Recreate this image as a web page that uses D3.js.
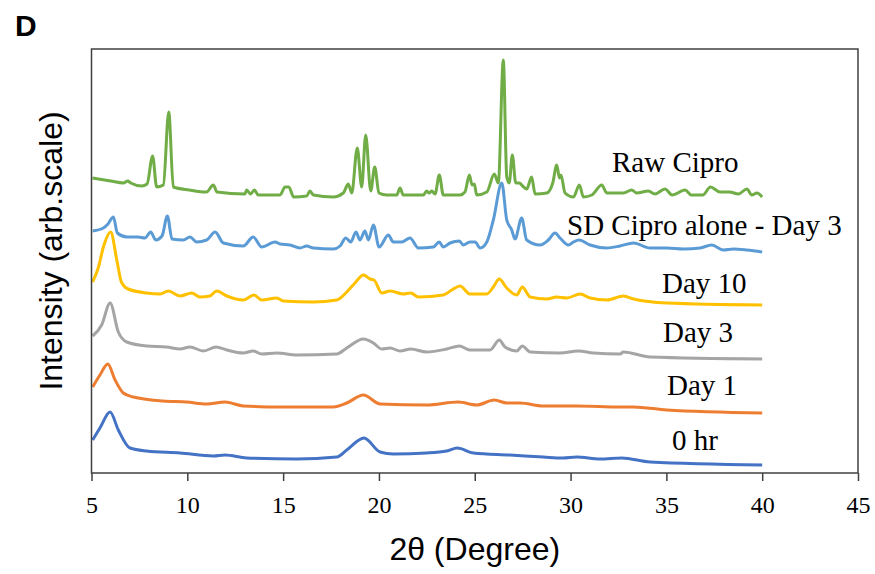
<!DOCTYPE html>
<html>
<head>
<meta charset="utf-8">
<script src="https://cdn.jsdelivr.net/npm/d3@7"></script>
<style>
  body { margin: 0; background: #fff; }
  svg { display: block; }
</style>
</head>
<body>
<div id="vis"></div>
<script>
// 2θ (degree), intensity (arb. units, already stacked)
const rawCipro = [
  [5.05, 295], [6.0, 292], [6.66, 290], [6.89, 292], [7.05, 290], [7.62, 287], [7.9, 289],
  [8.19, 317], [8.4, 286], [8.75, 288], [9.03, 361], [9.27, 286], [10.1, 283], [11.0, 281],
  [11.36, 288], [11.55, 281], [13.0, 279], [13.1, 283], [13.3, 279], [13.5, 283], [13.7, 278],
  [14.84, 278], [15.1, 286], [15.3, 286], [15.55, 276], [16.23, 277], [16.4, 282], [16.58, 278],
  [17.62, 276], [18.14, 280], [18.4, 289], [18.58, 280], [18.87, 325], [19.1, 286], [19.31, 338],
  [19.57, 282], [19.78, 306], [20.0, 280], [20.4, 278], [20.93, 278], [21.1, 285], [21.27, 278],
  [22.32, 278], [22.49, 282], [22.62, 280], [22.76, 282], [22.93, 279], [23.15, 298], [23.36, 278],
  [24.23, 278], [24.49, 281], [24.72, 298], [24.86, 288], [24.98, 289], [25.1, 278], [25.63, 281],
  [26.02, 299], [26.23, 290], [26.49, 413], [26.67, 296], [26.8, 290], [26.96, 318], [27.14, 290],
  [27.33, 290], [27.5, 287], [27.71, 284], [27.97, 296], [28.15, 279], [28.76, 280], [29.07, 290],
  [29.28, 308], [29.42, 295], [29.5, 298], [29.71, 280], [30.15, 276], [30.46, 288], [30.67, 276],
  [31.11, 278], [31.63, 288], [31.89, 280], [32.76, 280], [33.19, 283], [33.45, 280], [34.06, 282],
  [34.4, 279], [34.93, 284], [35.3, 278], [35.98, 283], [36.3, 278], [36.9, 278], [37.3, 286],
  [37.8, 281], [38.3, 281], [38.76, 279], [39.2, 284], [39.46, 278], [39.72, 280], [40.0, 276]
];
const sdCiproDay3 = [
  [5.06, 242], [5.62, 245], [5.86, 249], [6.14, 256], [6.35, 240], [6.84, 236], [7.43, 236],
  [7.79, 235], [8.09, 241], [8.35, 233], [8.68, 237], [8.96, 257], [9.2, 234], [9.79, 233],
  [10.14, 236], [10.49, 231], [11.01, 233], [11.45, 241], [11.88, 230], [12.92, 227], [13.44, 236],
  [13.88, 226], [14.58, 231], [14.84, 229], [15.36, 228], [15.88, 225], [16.23, 227], [16.58, 225],
  [17.62, 224], [17.97, 227], [18.27, 235], [18.53, 231], [18.8, 241], [19.01, 233], [19.27, 242],
  [19.45, 233], [19.71, 248], [20.01, 226], [20.49, 238], [20.75, 231], [21.19, 231], [21.62, 235],
  [22.06, 225], [22.84, 226], [23.14, 231], [23.36, 226], [23.71, 230], [24.2, 232], [24.4, 228],
  [24.75, 231], [25.02, 231], [25.28, 225], [25.63, 231], [25.97, 253], [26.41, 290], [26.67, 253],
  [26.93, 243], [27.1, 234], [27.45, 255], [27.71, 233], [28.41, 228], [28.84, 233], [29.19, 240],
  [29.45, 235], [29.89, 228], [30.15, 231], [30.44, 233], [31.02, 228], [31.89, 225], [32.58, 227],
  [33.28, 230], [34.15, 225], [35.02, 225], [35.89, 224], [36.76, 225], [37.37, 228], [37.97, 223],
  [38.5, 224], [39.2, 223], [40.0, 221]
];
const day10 = [
  [5.06, 191], [5.35, 205], [5.65, 228], [6.0, 241], [6.32, 213], [6.56, 191], [6.91, 184],
  [7.88, 180], [8.58, 179], [9.01, 182], [9.62, 177], [10.23, 180], [10.66, 176], [11.18, 177],
  [11.53, 182], [12.06, 177], [12.92, 173], [13.48, 178], [13.88, 173], [14.67, 175], [15.01, 172],
  [16.58, 171], [17.8, 173], [18.32, 181], [18.75, 190], [19.19, 198], [19.54, 194], [19.74, 193],
  [20.15, 180], [20.58, 182], [21.27, 179], [21.66, 180], [22.06, 176], [23.36, 178], [23.8, 183],
  [24.23, 187], [24.75, 179], [25.63, 179], [25.97, 186], [26.28, 194], [26.67, 185], [27.19, 178],
  [27.48, 186], [27.89, 176], [28.76, 174], [29.28, 176], [29.8, 175], [30.5, 179], [31.02, 175],
  [31.89, 173], [32.76, 177], [33.28, 174], [35.02, 170], [40.0, 168]
];
const day3 = [
  [5.06, 137], [5.53, 148], [5.97, 170], [6.4, 141], [6.84, 131], [7.88, 127], [8.92, 126],
  [9.62, 124], [10.14, 126], [10.84, 122], [11.5, 126], [12.06, 123], [12.92, 120], [13.44, 122],
  [13.88, 119], [14.67, 120], [15.71, 118], [17.8, 119], [18.32, 125], [19.19, 134], [19.71, 130],
  [20.15, 124], [20.58, 125], [21.1, 122], [21.66, 124], [22.49, 121], [23.54, 124], [24.2, 127],
  [24.75, 123], [25.8, 123], [26.28, 133], [26.58, 126], [27.19, 122], [27.48, 127], [27.89, 121],
  [29.45, 120], [30.41, 122], [31.19, 120], [32.58, 119], [32.76, 121], [34.15, 116], [40.0, 114]
];
const day1 = [
  [5.06, 86], [5.44, 98], [5.85, 109], [6.23, 93], [6.66, 80], [7.18, 76], [8.75, 72], [9.97, 71],
  [11.01, 69], [11.97, 71], [12.92, 67], [14.84, 66], [17.62, 66], [18.32, 70], [19.19, 78],
  [20.06, 69], [22.49, 68], [24.14, 71], [25.1, 68], [26.02, 73], [26.67, 70], [27.36, 70],
  [28.58, 67], [30.32, 67], [32.58, 66], [33.28, 66], [35.02, 63], [40.0, 60]
];
const hr0 = [
  [5.06, 33], [5.44, 45], [5.97, 61], [6.4, 43], [7.01, 25], [7.88, 22], [9.62, 20], [11.36, 17],
  [11.97, 18], [13.1, 15], [15.71, 14], [17.8, 16], [18.32, 23], [19.22, 35], [20.06, 21],
  [20.75, 19], [22.49, 20], [23.54, 22], [24.09, 25], [24.93, 20], [26.84, 18], [28.58, 16],
  [29.6, 15], [30.32, 16], [31.54, 14], [32.67, 15], [34.15, 11], [40.0, 8]
];

const seriesNames = ["Raw Cipro", "SD Cipro alone - Day 3", "Day 10", "Day 3", "Day 1", "0 hr"];
const seriesData = [rawCipro, sdCiproDay3, day10, day3, day1, hr0];
const xTicks = [5, 10, 15, 20, 25, 30, 35, 40, 45];

// layout
const FRAME_WIDTH = 875;
const FRAME_HEIGHT = 574;
const PLOT = { left: 91.5, right: 858, top: 49, bottom: 473 };
const COLORS = ["#70AD47", "#5B9BD5", "#FFC000", "#A5A5A5", "#ED7D31", "#4472C4"];
// where each series name sits: [x start, baseline]
const LABEL_POS = [[612, 172], [567, 235], [662, 293], [663, 342], [667, 395], [672, 450]];

const FRAME = d3.select("#vis")
  .append("svg")
    .attr("width", FRAME_WIDTH)
    .attr("height", FRAME_HEIGHT);

const x = d3.scaleLinear().domain([5, 45]).range([PLOT.left, PLOT.right]);
const y = d3.scaleLinear().domain([0, 424]).range([PLOT.bottom, PLOT.top]);

// x axis ticks + labels (frame draws the line itself)
const xAxis = FRAME.append("g")
  .attr("transform", `translate(0,${PLOT.bottom})`)
  .call(d3.axisBottom(x).tickValues(xTicks).tickSize(8).tickSizeOuter(0).tickPadding(15));
xAxis.select(".domain").remove();
xAxis.selectAll("line").attr("stroke", "#404040").attr("stroke-width", 1.5);
xAxis.selectAll("text")
  .attr("fill", "#000")
  .style("font-family", "'Liberation Serif', 'Times New Roman', serif")
  .style("font-size", "24px");

// traces
const line = d3.line()
  .x(d => x(d[0]))
  .y(d => y(d[1]))
  .curve(d3.curveMonotoneX);

FRAME.selectAll(".trace")
  .data(seriesData)
  .enter()
  .append("path")
    .attr("class", "trace")
    .attr("d", d => line(d))
    .attr("fill", "none")
    .attr("stroke", (d, i) => COLORS[i])
    .attr("stroke-width", 3)
    .attr("stroke-linejoin", "round");

// plot frame
FRAME.append("rect")
  .attr("x", PLOT.left)
  .attr("y", PLOT.top)
  .attr("width", PLOT.right - PLOT.left)
  .attr("height", PLOT.bottom - PLOT.top)
  .attr("fill", "none")
  .attr("stroke", "#404040")
  .attr("stroke-width", 1.5);

// series labels
FRAME.selectAll(".lbl")
  .data(seriesNames)
  .enter()
  .append("text")
    .attr("class", "lbl")
    .attr("x", (d, i) => LABEL_POS[i][0])
    .attr("y", (d, i) => LABEL_POS[i][1])
    .style("font-family", "'Liberation Serif', 'Times New Roman', serif")
    .style("font-size", "29px")
    .attr("fill", "#000")
    .text(d => d);

// axis titles
FRAME.append("text")
  .attr("x", (PLOT.left + PLOT.right) / 2)
  .attr("y", 560)
  .attr("text-anchor", "middle")
  .style("font-family", "'Liberation Sans', Arial, sans-serif")
  .style("font-size", "32px")
  .text("2θ (Degree)");

FRAME.append("text")
  .attr("transform", "translate(62,251) rotate(-90)")
  .attr("text-anchor", "middle")
  .style("font-family", "'Liberation Sans', Arial, sans-serif")
  .style("font-size", "32px")
  .text("Intensity (arb.scale)");

// panel letter
FRAME.append("text")
  .attr("x", 15)
  .attr("y", 36)
  .style("font-family", "'Liberation Sans', Arial, sans-serif")
  .style("font-size", "30px")
  .style("font-weight", "bold")
  .text("D");
</script>
</body>
</html>
